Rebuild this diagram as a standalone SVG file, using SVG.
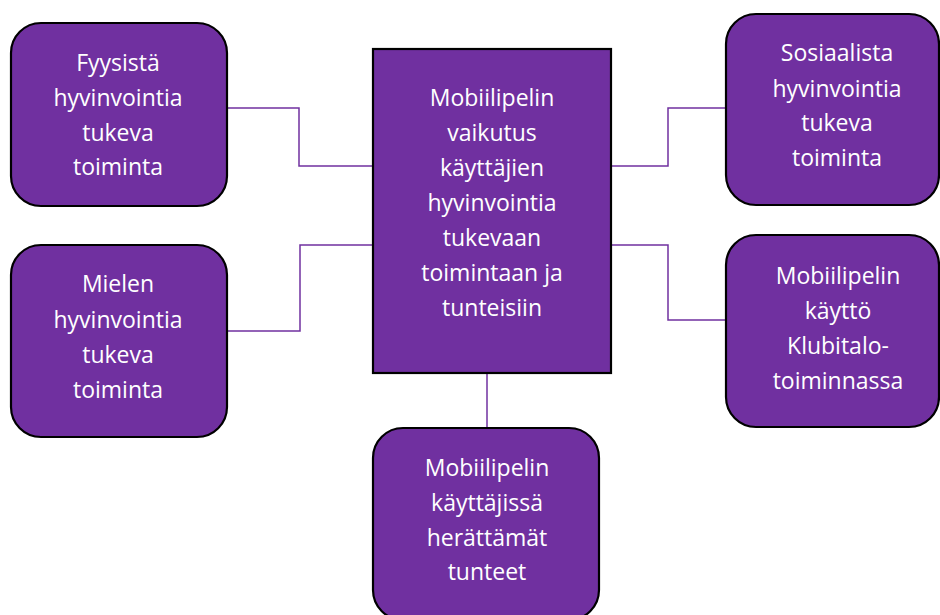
<svg xmlns="http://www.w3.org/2000/svg" width="940" height="615" viewBox="0 0 940 615">
<style>
.node{fill:#7030A0;stroke:#000;stroke-width:2.2}
.conn{fill:none;stroke:#7030A0;stroke-width:1.5}
text{font-family:"Open Sans","Noto Sans",sans-serif;font-size:23px;fill:#fff;text-anchor:middle;dominant-baseline:central}
</style>
<rect width="940" height="615" fill="#fff"/>
<g id="connectors">
<polyline class="conn" points="227,108 299,108 299,166 373,166"/>
<polyline class="conn" points="227,331 300,331 300,245 373,245"/>
<polyline class="conn" points="611,166 668,166 668,108 726,108"/>
<polyline class="conn" points="611,245 668,245 668,320 726,320"/>
<line class="conn" x1="487" y1="373" x2="487" y2="428"/>
</g>
<g id="center">
<rect class="node" x="373" y="49" width="238" height="324"/>
<text x="492" y="97">Mobiilipelin</text>
<text x="492" y="132">vaikutus</text>
<text x="492" y="167">käyttäjien</text>
<text x="492" y="202">hyvinvointia</text>
<text x="492" y="237">tukevaan</text>
<text x="492" y="272">toimintaan ja</text>
<text x="492" y="307">tunteisiin</text>
</g>
<g id="fyysista">
<rect class="node" x="11" y="23" width="216" height="183" rx="30"/>
<text x="118" y="62">Fyysistä</text>
<text x="118" y="97">hyvinvointia</text>
<text x="118" y="132">tukeva</text>
<text x="118" y="166">toiminta</text>
</g>
<g id="mielen">
<rect class="node" x="11" y="245" width="216" height="192" rx="30"/>
<text x="118" y="283">Mielen</text>
<text x="118" y="319">hyvinvointia</text>
<text x="118" y="354">tukeva</text>
<text x="118" y="389">toiminta</text>
</g>
<g id="sosiaalista">
<rect class="node" x="726" y="14" width="213" height="191" rx="30"/>
<text x="837" y="52">Sosiaalista</text>
<text x="837" y="88">hyvinvointia</text>
<text x="837" y="122">tukeva</text>
<text x="837" y="157">toiminta</text>
</g>
<g id="klubitalo">
<rect class="node" x="726" y="235" width="213" height="192" rx="30"/>
<text x="838" y="275">Mobiilipelin</text>
<text x="838" y="310">käyttö</text>
<text x="838" y="345">Klubitalo-</text>
<text x="838" y="380">toiminnassa</text>
</g>
<g id="tunteet">
<rect class="node" x="373" y="428" width="226" height="192" rx="30"/>
<text x="487" y="467">Mobiilipelin</text>
<text x="487" y="502">käyttäjissä</text>
<text x="487" y="537">herättämät</text>
<text x="487" y="571">tunteet</text>
</g>
</svg>
